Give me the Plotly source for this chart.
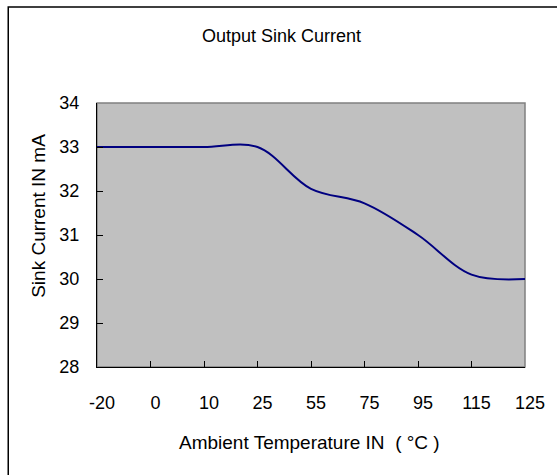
import plotly.graph_objects as go

temps = ["-20", "0", "10", "25", "55", "75", "95", "115", "125"]
sink_current = [33.0, 33.0, 33.0, 33.0, 32.05, 31.72, 31.0, 30.1, 30.0]
y_ticks = [28, 29, 30, 31, 32, 33, 34]

W, H = 557, 475
L, R, T, B = 97, 26, 103, 108
pw, ph = W - L - R, H - T - B

def px(x):
    return (x - L) / pw

def py(y):
    return (H - B - y) / ph

font = "Liberation Sans, Arial, sans-serif"

fig = go.Figure()
fig.add_trace(go.Scatter(
    x=temps, y=sink_current, mode="lines",
    line=dict(color="#000080", width=2, shape="spline", smoothing=1.0),
    hoverinfo="x+y", showlegend=False,
))

fig.update_layout(
    width=W, height=H,
    margin=dict(l=L, r=R, t=T, b=B, pad=0),
    paper_bgcolor="white",
    plot_bgcolor="#C0C0C0",
    font=dict(family=font, size=18, color="black"),
    xaxis=dict(
        type="category", range=[0, len(temps) - 1],
        showgrid=False, zeroline=False,
        showline=True, linecolor="black", linewidth=1,
        ticks="inside", ticklen=6, tickcolor="black", tickwidth=1,
        tickfont=dict(size=18), ticklabelstandoff=19, ticklabelshift=5,
    ),
    yaxis=dict(
        range=[28, 34], tickvals=y_ticks,
        showgrid=False, zeroline=False,
        showline=True, linecolor="black", linewidth=1,
        ticks="inside", ticklen=6, tickcolor="black", tickwidth=1,
        tickfont=dict(size=18), ticklabelstandoff=13,
    ),
    shapes=[
        dict(type="rect", xref="paper", yref="paper", x0=0, x1=1, y0=0, y1=1,
             line=dict(color="#808080", width=1.5), fillcolor="rgba(0,0,0,0)", layer="below"),
        dict(type="rect", xref="paper", yref="paper",
             x0=px(7), x1=px(W + 20), y0=py(H + 20), y1=py(7),
             line=dict(color="black", width=1.5), fillcolor="rgba(0,0,0,0)"),
    ],
    annotations=[
        dict(text="Output Sink Current", xref="paper", yref="paper",
             x=px(284), y=py(36), showarrow=False, font=dict(size=18),
             xanchor="center", yanchor="middle"),
        dict(text="Ambient Temperature IN  ( °C )", xref="paper", yref="paper",
             x=px(312), y=py(442), showarrow=False, font=dict(size=19),
             xanchor="center", yanchor="middle"),
        dict(text="Sink Current IN mA", xref="paper", yref="paper",
             x=px(37), y=py(216), showarrow=False, font=dict(size=19),
             textangle=-90, xanchor="center", yanchor="middle"),
    ],
)

fig.write_html(
    "out.html",
    config={"displayModeBar": False},
    post_script="document.body.style.margin='0px';document.body.style.overflow='hidden';",
)
